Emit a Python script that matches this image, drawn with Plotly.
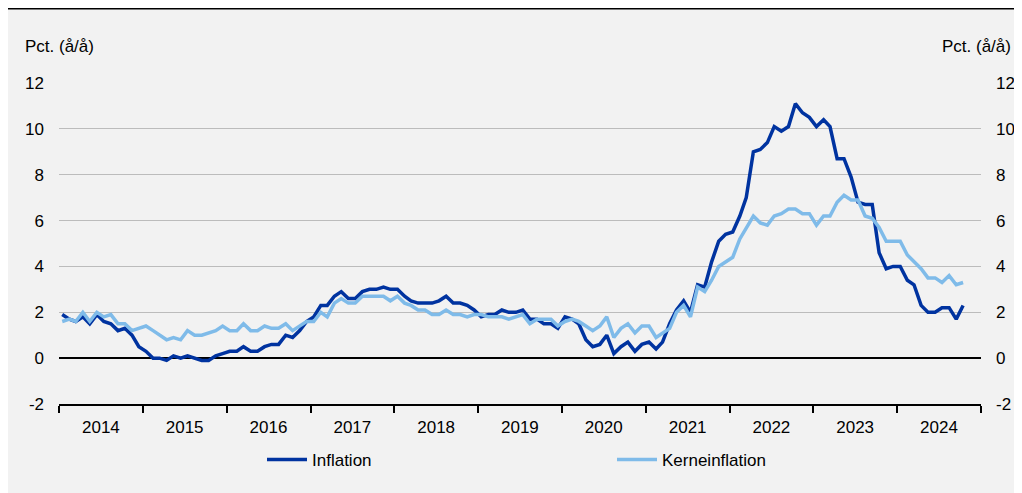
import pandas as pd
import plotly.graph_objects as go

start_month = "2014-01-01"
inflation = [
    1.9, 1.7, 1.6, 1.8, 1.5, 1.9, 1.6, 1.5, 1.2, 1.3, 1.0, 0.5,
    0.3, 0.0, 0.0, -0.1, 0.1, 0.0, 0.1, 0.0, -0.1, -0.1, 0.1, 0.2,
    0.3, 0.3, 0.5, 0.3, 0.3, 0.5, 0.6, 0.6, 1.0, 0.9, 1.2, 1.6,
    1.8, 2.3, 2.3, 2.7, 2.9, 2.6, 2.6, 2.9, 3.0, 3.0, 3.1, 3.0,
    3.0, 2.7, 2.5, 2.4, 2.4, 2.4, 2.5, 2.7, 2.4, 2.4, 2.3, 2.1,
    1.8, 1.9, 1.9, 2.1, 2.0, 2.0, 2.1, 1.7, 1.7, 1.5, 1.5, 1.3,
    1.8, 1.7, 1.5, 0.8, 0.5, 0.6, 1.0, 0.2, 0.5, 0.7, 0.3, 0.6,
    0.7, 0.4, 0.7, 1.5, 2.1, 2.5, 2.0, 3.2, 3.1, 4.2, 5.1, 5.4,
    5.5, 6.2, 7.0, 9.0, 9.1, 9.4, 10.1, 9.9, 10.1, 11.1, 10.7, 10.5,
    10.1, 10.4, 10.1, 8.7, 8.7, 7.9, 6.8, 6.7, 6.7, 4.6, 3.9, 4.0,
    4.0, 3.4, 3.2, 2.3, 2.0, 2.0, 2.2, 2.2, 1.7, 2.3,
]
kerneinflation = [
    1.6, 1.7, 1.6, 2.0, 1.6, 2.0, 1.8, 1.9, 1.5, 1.5, 1.2, 1.3,
    1.4, 1.2, 1.0, 0.8, 0.9, 0.8, 1.2, 1.0, 1.0, 1.1, 1.2, 1.4,
    1.2, 1.2, 1.5, 1.2, 1.2, 1.4, 1.3, 1.3, 1.5, 1.2, 1.4, 1.6,
    1.6, 2.0, 1.8, 2.4, 2.6, 2.4, 2.4, 2.7, 2.7, 2.7, 2.7, 2.5,
    2.7, 2.4, 2.3, 2.1, 2.1, 1.9, 1.9, 2.1, 1.9, 1.9, 1.8, 1.9,
    1.9, 1.8, 1.8, 1.8, 1.7, 1.8, 1.9, 1.5, 1.7, 1.7, 1.7, 1.4,
    1.6, 1.7, 1.6, 1.4, 1.2, 1.4, 1.8, 0.9, 1.3, 1.5, 1.1, 1.4,
    1.4, 0.9, 1.1, 1.3, 2.0, 2.3, 1.8, 3.1, 2.9, 3.4, 4.0, 4.2,
    4.4, 5.2, 5.7, 6.2, 5.9, 5.8, 6.2, 6.3, 6.5, 6.5, 6.3, 6.3,
    5.8, 6.2, 6.2, 6.8, 7.1, 6.9, 6.9, 6.2, 6.1, 5.7, 5.1, 5.1,
    5.1, 4.5, 4.2, 3.9, 3.5, 3.5, 3.3, 3.6, 3.2, 3.3,
]
series_names = ["Inflation", "Kerneinflation"]
y_tick_values = [-2, 0, 2, 4, 6, 8, 10, 12]
y_tick_labels = ["-2", "0", "2", "4", "6", "8", "10", "12"]
axis_title = "Pct. (å/å)"

months = pd.date_range(start_month, periods=len(inflation), freq="MS") + pd.Timedelta(days=14)

DARK = "#0033a0"
LIGHT = "#7fbbe9"
FONT = "Liberation Sans, Arial, sans-serif"
BG = "#f2f2f2"

fig = go.Figure()
fig.add_trace(go.Scatter(x=months, y=inflation, name=series_names[0], mode="lines",
                         line=dict(color=DARK, width=3.5), hoverinfo="skip"))
fig.add_trace(go.Scatter(x=months, y=kerneinflation, name=series_names[1], mode="lines",
                         line=dict(color=LIGHT, width=3.5), hoverinfo="skip"))
fig.add_trace(go.Scatter(x=[months[0]], y=[None], yaxis="y2", showlegend=False,
                         hoverinfo="skip", mode="lines"))

# the page body adds an 8px offset; figure coordinates = page coordinates - 8
OFF = 8
FW, FH = 1022 - OFF, 493 - OFF
L, R, T, B = 59 - OFF, 981 - OFF, 83 - OFF, 404 - OFF
W, H = R - L, B - T
def px(x):
    return (x - OFF - L) / W
def py(y):
    return (B - (y - OFF)) / H

fig.update_layout(
    width=FW, height=FH,
    margin=dict(l=L, r=FW - R, t=T, b=FH - B, pad=0, autoexpand=False),
    paper_bgcolor=BG, plot_bgcolor=BG,
    font=dict(family=FONT, size=17, color="#000000"),
    hovermode=False,
    showlegend=True,
    legend=dict(orientation="h", x=px(262), xanchor="left", y=py(460), yanchor="middle",
                bgcolor="rgba(0,0,0,0)", font=dict(size=17), itemwidth=40,
                entrywidth=295, entrywidthmode="pixels", tracegroupgap=0),
    xaxis=dict(type="date", range=["2014-01-01", "2025-01-01"], automargin=False,
               tick0="2014-01-01", dtick="M12", tickformat="%Y",
               ticklabelmode="period", ticks="outside", ticklen=7, tickwidth=1.5,
               tickcolor="black", showline=True, linecolor="black", linewidth=1.5,
               showgrid=False, zeroline=False, ticklabelstandoff=0,
               tickfont=dict(size=17)),
    yaxis=dict(range=[-2, 12], tickvals=y_tick_values, ticktext=y_tick_labels, automargin=False,
               showgrid=True, gridcolor="#bcbcbc", gridwidth=1.2,
               zeroline=True, zerolinecolor="black", zerolinewidth=1.5,
               showline=False, ticks="", ticklabelstandoff=14, tickfont=dict(size=17)),
    yaxis2=dict(range=[-2, 12], tickvals=y_tick_values, ticktext=y_tick_labels, automargin=False,
                overlaying="y", side="right", showgrid=False, zeroline=False,
                showline=False, ticks="", ticklabelstandoff=14, tickfont=dict(size=17)),
    shapes=[
        dict(type="line", xref="paper", yref="paper", x0=px(OFF), x1=px(1022), y0=py(8.75), y1=py(8.75),
             line=dict(color="black", width=1.5)),
    ],
    annotations=[
        dict(text=axis_title, xref="paper", yref="paper", x=px(23), y=py(46),
             xanchor="left", yanchor="middle", showarrow=False, font=dict(size=17)),
        dict(text=axis_title, xref="paper", yref="paper", x=px(1013), y=py(46),
             xanchor="right", yanchor="middle", showarrow=False, font=dict(size=17)),
    ],
)

fig.write_html("out.html")
